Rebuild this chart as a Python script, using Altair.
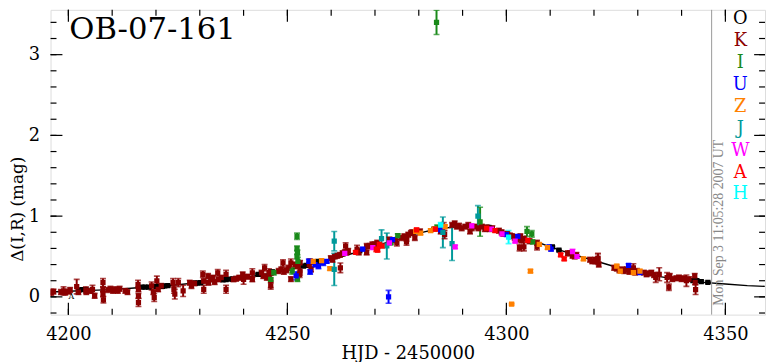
import altair as alt
import pandas as pd

# ---- model curve ----
model_t = [4196, 4200, 4205, 4210, 4215, 4220, 4225, 4230, 4235, 4240, 4245, 4250, 4255,
           4260, 4265, 4270, 4275, 4280, 4285, 4290, 4295, 4300, 4305, 4310, 4315, 4320,
           4325, 4330, 4335, 4340, 4345, 4350, 4355, 4359]
model_m = [0.06, 0.07, 0.08, 0.09, 0.11, 0.13, 0.15, 0.18, 0.20, 0.24, 0.28, 0.33, 0.40,
           0.46, 0.54, 0.63, 0.71, 0.79, 0.85, 0.87, 0.85, 0.80, 0.72, 0.62, 0.53, 0.45,
           0.37, 0.31, 0.25, 0.21, 0.18, 0.16, 0.14, 0.13]

# ---- observations (t, mag, err) ----
O_pts = [(4202.5, .086, .01), (4203.2, .09, .01), (4204.0, .09, .01), (4216.8, .12, .01),
         (4217.5, .12, .01), (4218.3, .12, .01), (4220.0, .13, .01), (4220.8, .13, .01),
         (4221.5, .13, .01), (4222.0, .135, .01), (4222.7, .14, .01), (4229.0, .17, .01),
         (4229.6, .17, .01), (4230.2, .175, .01), (4235.3, .21, .01), (4236.0, .215, .01),
         (4236.8, .22, .01), (4237.5, .22, .01), (4243.3, .28, .01), (4243.9, .28, .01),
         (4246.0, .30, .01), (4246.6, .31, .01), (4253.7, .38, .01), (4254.3, .39, .01),
         (4256.5, .43, .01), (4257.0, .44, .01), (4266.5, .57, .01), (4270.0, .63, .01),
         (4283.5, .84, .01), (4296.0, .86, .01), (4310.5, .62, .01), (4312.0, .58, .01),
         (4342.6, .20, .01), (4343.5, .20, .01), (4344.5, .19, .01), (4346.0, .18, .01)]

K_pts = [(4196.1, .054, .04), (4196.6, .066, .03), (4198.3, .06, .03), (4198.9, .074, .05),
         (4199.3, .054, .03), (4200.1, .066, .03), (4200.4, .086, .03), (4201.9, .127, .09),
         (4202.3, .06, .03), (4204.0, .086, .04), (4204.1, .06, .03), (4205.1, .074, .03),
         (4205.5, .094, .05), (4206.0, .013, .03), (4207.9, .176, .05), (4207.9, .094, .03),
         (4207.9, .033, .03), (4208.0, -.036, .04), (4209.1, .086, .03), (4209.6, .10, .03),
         (4210.2, .074, .03), (4210.8, .094, .03), (4211.3, .074, .03), (4211.7, .10, .03),
         (4213.0, .074, .03), (4213.5, .06, .03), (4215.9, .156, .05), (4216.0, .094, .03),
         (4216.0, .013, .03), (4216.0, -.07, .05), (4219.0, .135, .05), (4219.4, .06, .03),
         (4219.6, -.008, .05), (4220.2, .197, .06), (4220.5, .094, .03), (4221.2, .135, .03),
         (4223.9, .176, .05), (4224.1, .094, .05), (4224.3, .033, .06), (4225.1, .176, .05),
         (4226.2, .074, .07), (4227.7, .176, .03), (4228.1, .135, .03), (4228.8, .168, .03),
         (4230.7, .28, .04), (4230.9, .196, .03), (4230.9, .094, .05), (4231.9, .258, .03),
         (4232.0, .176, .03), (4232.5, .217, .03), (4233.0, .237, .03), (4233.4, .184, .03),
         (4234.1, .298, .04), (4234.3, .217, .03), (4234.9, .237, .03), (4236.0, .278, .05),
         (4236.0, .094, .05), (4237.7, .217, .03), (4238.3, .225, .03), (4239.0, .237, .03),
         (4239.8, .278, .03), (4240.0, .217, .06), (4240.9, .25, .03), (4242.0, .298, .05),
         (4242.0, .217, .03), (4244.1, .298, .03), (4244.5, .258, .03), (4244.8, .36, .04),
         (4245.3, .237, .03), (4246.2, .298, .03), (4246.2, .135, .04),
         (4245.8, .299, .05), (4246.2, .197, .08), (4248.0, .32, .03), (4248.6, .34, .03),
         (4249.2, .31, .03), (4249.8, .33, .03), (4250.3, .36, .03), (4249.0, .42, .04),
         (4250.8, .42, .05), (4250.8, .22, .03), (4251.8, .40, .03), (4252.3, .38, .03),
         (4252.9, .42, .03), (4252.9, .32, .05), (4252.8, .28, .04), (4255.0, .40, .03),
         (4255.4, .34, .03), (4255.2, .44, .03), (4259.9, .48, .03), (4260.3, .46, .03),
         (4260.8, .50, .03), (4261.4, .51, .03), (4262.0, .52, .03), (4262.6, .54, .03),
         (4263.1, .55, .03), (4263.5, .55, .03), (4263.9, .57, .03), (4262.1, .36, .06),
         (4263.3, .63, .04), (4265.9, .59, .05), (4266.3, .55, .03), (4268.1, .63, .03),
         (4268.8, .63, .03), (4269.4, .65, .03), (4269.9, .65, .03), (4268.1, .55, .03),
         (4270.5, .67, .03), (4273.3, .71, .03), (4274.6, .70, .03), (4275.0, .67, .04),
         (4276.1, .73, .03), (4276.7, .75, .03), (4277.2, .72, .03), (4277.6, .77, .03),
         (4278.2, .79, .03), (4278.5, .80, .03), (4277.2, .68, .04), (4279.1, .73, .03),
         (4280.3, .81, .03), (4285.0, .81, .03), (4285.3, .85, .03), (4285.7, .87, .05),
         (4285.9, .77, .05), (4287.6, .89, .03), (4288.2, .91, .03), (4288.7, .87, .03),
         (4289.2, .88, .03), (4289.8, .85, .03), (4290.6, .87, .03), (4291.3, .89, .03),
         (4292.1, .85, .03), (4292.7, .87, .03), (4291.7, .81, .03), (4293.6, .85, .03),
         (4294.4, .87, .03), (4295.1, .84, .03), (4295.9, .85, .03),
         (4295.5, .86, .03), (4296.2, .84, .03), (4296.8, .85, .03), (4298.3, .82, .03),
         (4298.9, .80, .03), (4299.3, .78, .03), (4300.2, .78, .03), (4300.8, .76, .03),
         (4301.3, .75, .03), (4301.9, .73, .03), (4302.3, .71, .03), (4302.8, .73, .03),
         (4303.2, .75, .03), (4303.5, .70, .03), (4304.0, .72, .03), (4303.0, .61, .04),
         (4304.0, .62, .05), (4305.3, .69, .03), (4307.0, .67, .03), (4307.0, .62, .04),
         (4314.0, .54, .03), (4314.5, .54, .03), (4315.1, .51, .03), (4315.6, .50, .03),
         (4316.0, .52, .03), (4319.1, .46, .03), (4319.6, .44, .03), (4320.3, .46, .03),
         (4320.9, .48, .05), (4320.3, .44, .03), (4320.9, .47, .07), (4321.1, .40, .03),
         (4324.6, .36, .03), (4325.2, .35, .03), (4325.8, .33, .03), (4326.4, .34, .03),
         (4326.9, .32, .03), (4327.5, .34, .03), (4328.1, .31, .03), (4328.6, .33, .03),
         (4329.0, .36, .05), (4329.4, .30, .03), (4329.8, .32, .03), (4331.4, .30, .03),
         (4332.0, .28, .03), (4332.6, .29, .03), (4333.1, .30, .03), (4333.7, .27, .03),
         (4334.1, .24, .06), (4334.9, .28, .08), (4336.7, .24, .06), (4337.3, .26, .03),
         (4337.9, .22, .03), (4337.1, .12, .04), (4338.8, .23, .03), (4339.4, .24, .03),
         (4340.0, .22, .03), (4340.5, .23, .03), (4341.1, .20, .07), (4341.7, .22, .03),
         (4343.0, .26, .03), (4343.1, .18, .03), (4343.2, .09, .06)]

I_pts = [(4246.2, .217, .02), (4246.9, .30, .03), (4251.1, .32, .04), (4252.2, .75, .04),
         (4252.2, .60, .03), (4252.3, .55, .03), (4252.2, .50, .03), (4252.4, .44, .05),
         (4252.3, .22, .03), (4273.6, .67, .02), (4275.2, .76, .02), (4284.2, .86, .03),
         (4294.0, .93, .18), (4284.05, 3.40, .15), (4304.7, .81, .06), (4305.8, .78, .04),
         (4306.0, .68, .02)]

U_pts = [(4252.0, .26, .05), (4254.9, .44, .03), (4255.2, .31, .03), (4256.3, .40, .03),
         (4257.1, .38, .03), (4258.2, .42, .03), (4259.0, .44, .02), (4267.2, .59, .02),
         (4274.0, .71, .02), (4285.0, .83, .02), (4273.1, 0.0, .08), (4300.0, .77, .02),
         (4302.6, .75, .02), (4309.8, .62, .02), (4310.2, .59, .02), (4327.9, .39, .02),
         (4330.5, .30, .02)]

Z_pts = [(4255.9, .44, .02), (4257.8, .45, .02), (4259.7, .35, .02), (4279.3, .81, .02),
         (4280.4, .79, .02), (4282.7, .82, .02), (4283.5, .84, .02), (4286.0, .87, .02),
         (4301.2, -.09, .01), (4305.5, .32, .02), (4307.5, .65, .02), (4309.4, .61, .02),
         (4317.6, .47, .02), (4325.2, .38, .02), (4326.0, .32, .02), (4329.0, .30, .02),
         (4330.5, .32, .02)]

J_pts = [(4260.7, .69, .12), (4260.7, .34, .20), (4271.5, .72, .11), (4272.7, .63, .16),
         (4285.5, .80, .19), (4287.6, .66, .21), (4293.5, 1.00, .13)]

W_pts = [(4263.1, .54, .02), (4269.5, .61, .02), (4273.3, .67, .02), (4288.3, .62, .02),
         (4292.1, .88, .02), (4296.6, .84, .02), (4299.0, .78, .02), (4302.0, .69, .02),
         (4315.1, .56, .03), (4316.1, .50, .02)]

A_pts = [(4265.6, .55, .02), (4270.3, .59, .03), (4271.0, .65, .02), (4270.6, .58, .02),
         (4271.6, .63, .02), (4279.5, .83, .02), (4283.8, .84, .02), (4295.5, .85, .02),
         (4297.4, .82, .02), (4304.9, .70, .02), (4312.4, .52, .02), (4313.2, .47, .02)]

H_pts = [(4285.0, .89, .03), (4300.5, .74, .08)]

obs_codes = ["O", "K", "I", "U", "Z", "J", "W", "A", "H"]
obs_colors = ["#000000", "#8b0000", "#1a8a1a", "#0000ff", "#ff8000", "#00999a",
              "#ff00ff", "#ff0000", "#00ffff"]

x_major = [4200, 4250, 4300, 4350]
x_minor = [4200, 4210, 4220, 4230, 4240, 4250, 4260, 4270, 4280, 4290, 4300, 4310,
           4320, 4330, 4340, 4350]
y_major = [0, 1, 2, 3]
y_minor = [-0.2, 0.0, 0.2, 0.4, 0.6, 0.8, 1.0, 1.2, 1.4, 1.6, 1.8, 2.0, 2.2, 2.4,
           2.6, 2.8, 3.0, 3.2, 3.4]

title_text = "OB-07-161"
date_text = "Mon Sep  3 11:05:28 2007 UT"
sep_t = [4346.86]

# ---- build tables ----
rows = []
for code, pts in zip(obs_codes, [O_pts, K_pts, I_pts, U_pts, Z_pts, J_pts, W_pts, A_pts, H_pts]):
    for (t, m, e) in pts:
        rows.append({"obs": code, "t": t, "m": m, "lo": m - e, "hi": m + e})
obs_df = pd.DataFrame(rows)
model_df = pd.DataFrame({"t": model_t, "m": model_m})

W, H = 722, 308
FONT = "DejaVu Serif"
xs = alt.Scale(domain=[4195.93, 4359.05], nice=False, zero=False)
ys = alt.Scale(domain=[-0.22, 3.555], nice=False, zero=False)
cs = alt.Scale(domain=obs_codes, range=obs_colors)

XA = alt.Axis(values=x_major, ticks=False, domain=False, grid=False, format="d",
              labelFont=FONT, labelFontSize=18, labelColor="black", labelPadding=11,
              title="HJD - 2450000", titleFont=FONT, titleFontSize=18, titleFontWeight="normal",
              titleColor="black", titleY=44, titleBaseline="alphabetic")
YA = alt.Axis(values=y_major, ticks=False, domain=False, grid=False, format="d",
              labelFont=FONT, labelFontSize=18, labelColor="black", labelPadding=11,
              title="Δ(I,R) (mag)", titleFont=FONT, titleFontSize=17, titleFontWeight="normal",
              titleColor="black", titleAngle=270, titleX=-33, titleY=201,
              titleAlign="center", titleBaseline="middle")

def X(f):
    return alt.X(f, scale=xs, axis=XA)

def Y(f):
    return alt.Y(f, scale=ys, axis=YA)

COL = alt.Color("obs:N", scale=cs, legend=None)

model = alt.Chart(model_df).mark_line(color="black", strokeWidth=1.4, clip=True).encode(
    x=X("t:Q"), y=Y("m:Q"))

sep = alt.Chart(pd.DataFrame({"t": sep_t})).mark_rule(color="#999999", strokeWidth=1).encode(
    x=X("t:Q"), y=alt.value(0), y2=alt.value(H))

base = alt.Chart(obs_df)
bars = base.mark_rule(strokeWidth=2, clip=True).encode(
    x=X("t:Q"), y=Y("lo:Q"), y2="hi:Q", color=COL)
cap_lo = base.mark_tick(orient="horizontal", size=6, thickness=1.6, clip=True).encode(
    x=X("t:Q"), y=Y("lo:Q"), color=COL)
cap_hi = base.mark_tick(orient="horizontal", size=6, thickness=1.6, clip=True).encode(
    x=X("t:Q"), y=Y("hi:Q"), color=COL)
pts = base.mark_square(size=28, opacity=1, clip=True).encode(
    x=X("t:Q"), y=Y("m:Q"), color=COL)

def xticks(vals, y0, y1):
    return alt.Chart(pd.DataFrame({"v": vals})).mark_rule(color="black", strokeWidth=1.2).encode(
        x=X("v:Q"), y=alt.value(y0), y2=alt.value(y1))

def yticks(vals, x0, x1):
    return alt.Chart(pd.DataFrame({"v": vals})).mark_rule(color="black", strokeWidth=1.2).encode(
        y=Y("v:Q"), x=alt.value(x0), x2=alt.value(x1))

ticks = [
    xticks(x_minor, H, H - 6), xticks(x_major, H, H - 12),
    xticks(x_minor, 0, 6), xticks(x_major, 0, 12),
    yticks(y_minor, 0, 6), yticks(y_major, 0, 12),
    yticks(y_minor, W, W - 6), yticks(y_major, W, W - 11),
]

title = alt.Chart(pd.DataFrame({"s": [title_text]})).mark_text(
    font=FONT, fontSize=31, align="left", baseline="alphabetic", color="black").encode(
    x=alt.value(19), y=alt.value(29), text="s:N")

date = alt.Chart(pd.DataFrame({"s": [date_text]})).mark_text(
    font="Liberation Serif", fontSize=14, angle=270, align="left", baseline="middle",
    color="#888888").encode(x=alt.value(676), y=alt.value(299), text="s:N")

leg = alt.Chart(pd.DataFrame({"code": obs_codes, "i": list(range(len(obs_codes)))})).transform_calculate(
    yy="3.374 - datum.i * 0.2708").mark_text(
    font=FONT, fontSize=18, align="center", baseline="alphabetic").encode(
    x=alt.value(697), y=Y("yy:Q"), text="code:N",
    color=alt.Color("code:N", scale=cs, legend=None))

mark_a = alt.Chart(pd.DataFrame({"t": [4200.7], "m": [0.0], "s": ["A"]})).mark_text(
    font=FONT, fontSize=8, color="black", baseline="middle").encode(
    x=X("t:Q"), y=Y("m:Q"), text="s:N")

chart = alt.layer(model, sep, bars, cap_lo, cap_hi, pts, *ticks, title, date, leg, mark_a).properties(
    width=W, height=H,
    autosize=alt.AutoSizeParams(type="none"),
    padding={"left": 43, "top": 0, "right": 2, "bottom": 46},
).configure_view(stroke="black", strokeWidth=2).configure(background="white")

chart.save("out.html", embed_options={"renderer": "svg", "actions": False})
